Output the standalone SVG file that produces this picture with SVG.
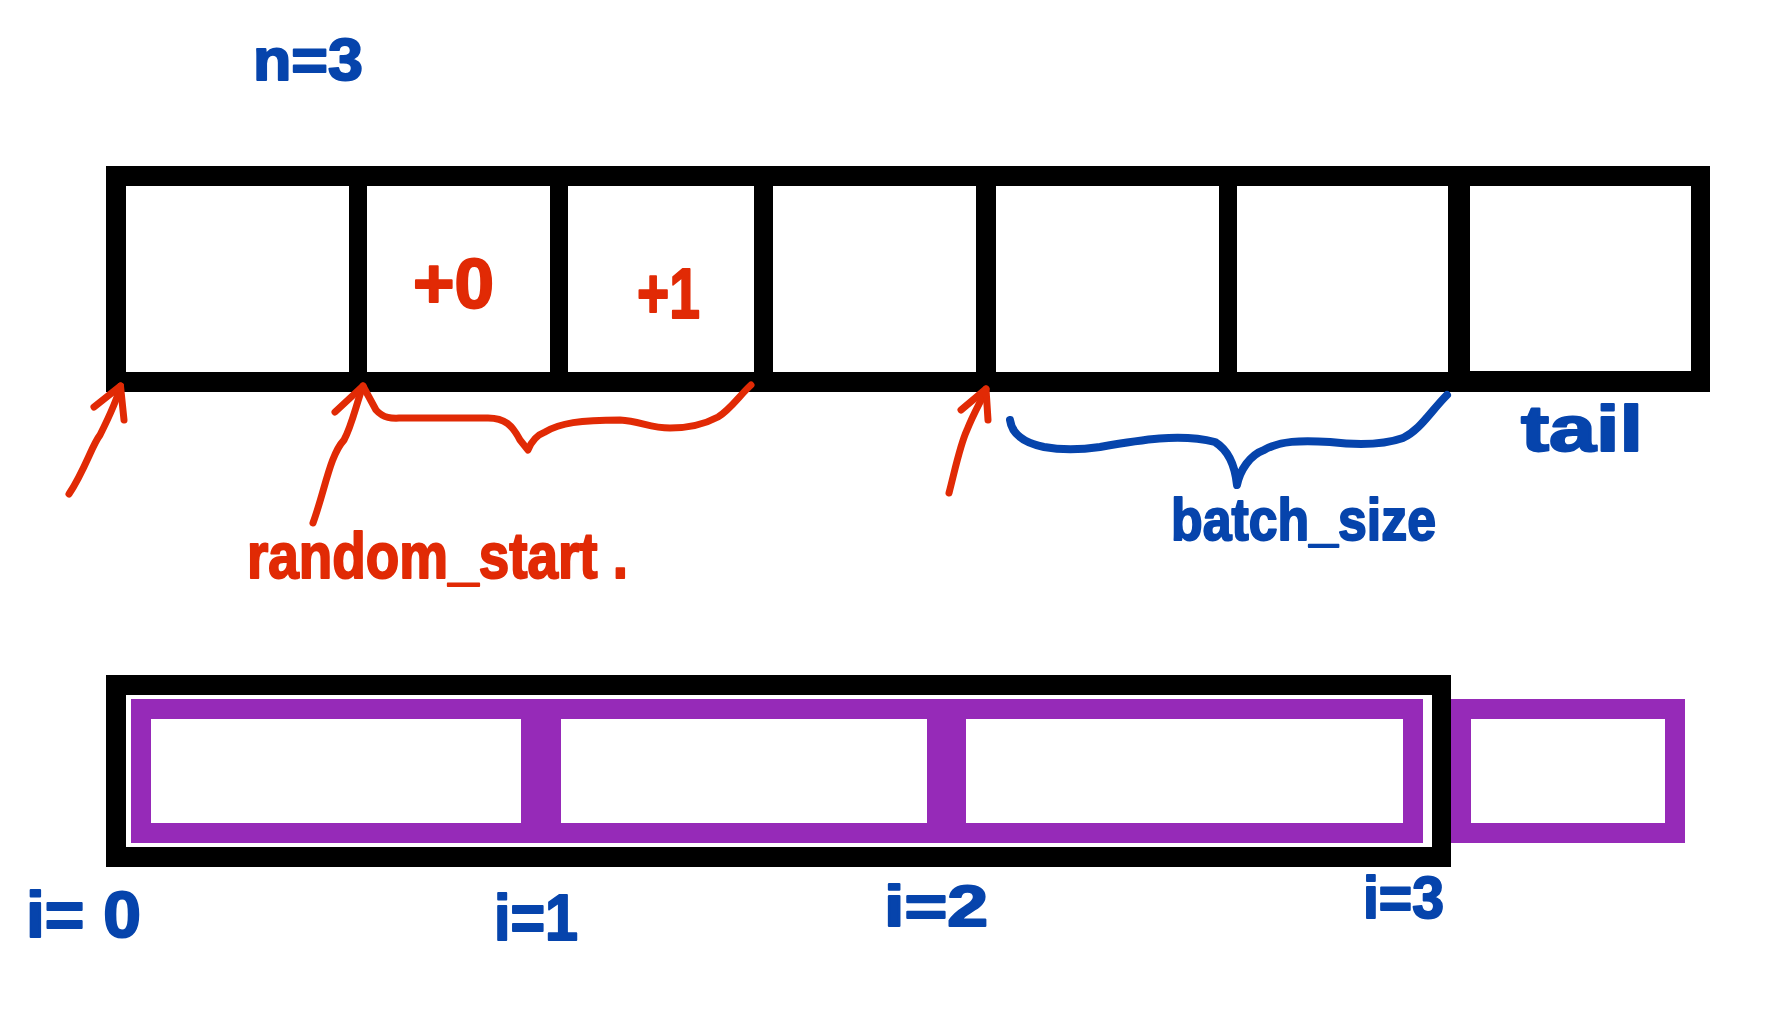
<svg xmlns="http://www.w3.org/2000/svg" width="1766" height="1014" viewBox="0 0 1766 1014">
<style>
.cell{fill:#ffffff}
.pur{fill:#962ab8}
.blk{fill:#000000}
.hand{font-family:"Liberation Sans","DejaVu Sans",sans-serif;font-weight:bold;stroke-linejoin:round}
.red{fill:#e12a05;stroke:#e12a05;stroke-width:2}
.blue{fill:#0644ac;stroke:#0644ac;stroke-width:2}
.rline{fill:none;stroke:#e12a05;stroke-width:7;stroke-linecap:round;stroke-linejoin:round}
.bline{fill:none;stroke:#0644ac;stroke-width:8;stroke-linecap:round;stroke-linejoin:round}
</style>
<rect width="1766" height="1014" fill="#ffffff"/>
<text id="label-n" class="hand blue" x="253" y="80" font-size="60" textLength="110" lengthAdjust="spacingAndGlyphs">n=3</text>
<g id="top-array">
<rect class="blk" x="106" y="166" width="1604" height="226"/>
<g id="cell-0"><rect class="cell" x="126" y="186" width="223" height="186"/></g>
<g id="cell-1"><rect class="cell" x="367" y="186" width="183" height="186"/><text class="hand red" x="413" y="308" font-size="70" textLength="81" lengthAdjust="spacingAndGlyphs">+0</text></g>
<g id="cell-2"><rect class="cell" x="568" y="186" width="186" height="186"/><text class="hand red" x="637" y="318" font-size="70" textLength="63" lengthAdjust="spacingAndGlyphs">+1</text></g>
<g id="cell-3"><rect class="cell" x="773" y="186" width="203" height="186"/></g>
<g id="cell-4"><rect class="cell" x="996" y="186" width="223" height="186"/></g>
<g id="cell-5"><rect class="cell" x="1237" y="186" width="211" height="186"/></g>
<g id="cell-6"><rect class="cell" x="1470" y="186" width="221" height="185"/></g>
</g>
<g id="connectors">
<path class="rline" d="M69,494 C85,470 92,445 100,435 C110,415 117,400 120.5,386"/>
<path class="rline" d="M94,407 L120.5,386 L124,420"/>
<path class="rline" d="M313,523 C325,490 330,455 344,440 C352,425 356,405 363,386"/>
<path class="rline" d="M335,412 L363,386 L376,410 C385,420 395,418 402,418 L488,418 C505,418 512,425 520,440 L528,450 C532,440 537,435 545,432 C560,423 580,420 620,420 C640,421 650,428 670,428 C690,428 705,424 718,417 C730,410 740,395 751,385"/>
<path class="rline" d="M949,493 C955,470 960,445 967,430 C975,410 982,400 986,389"/>
<path class="rline" d="M961,410 L986,389 L988,420"/>
<path class="bline" d="M1010,420 C1012,435 1025,443 1044,447 C1060,450 1080,450 1100,447 C1140,440 1180,433 1215,442 C1228,450 1235,465 1237,485 C1240,470 1250,455 1264,450 C1280,441 1300,440 1330,442 C1355,445 1380,446 1403,438 C1420,430 1430,412 1447,395"/>
</g>
<text id="label-random-start" class="hand red" x="247" y="578" font-size="64" textLength="381" lengthAdjust="spacingAndGlyphs">random_start .</text>
<text id="label-batch-size" class="hand blue" x="1171" y="540" font-size="60" textLength="265" lengthAdjust="spacingAndGlyphs">batch_size</text>
<text id="label-tail" class="hand blue" x="1521" y="451" font-size="64" textLength="122" lengthAdjust="spacingAndGlyphs">tail</text>
<g id="bottom-array">
<rect class="blk" x="106" y="675" width="1345" height="192"/>
<rect class="cell" x="126" y="695" width="1306" height="152"/>
<rect class="pur" x="131" y="699" width="1292" height="144"/>
<g id="batch-0"><rect class="cell" x="151" y="719" width="370" height="104"/></g>
<g id="batch-1"><rect class="cell" x="561" y="719" width="366" height="104"/></g>
<g id="batch-2"><rect class="cell" x="966" y="719" width="437" height="104"/></g>
</g>
<g id="tail-batch">
<rect class="pur" x="1451" y="699" width="234" height="144"/>
<rect class="cell" x="1471" y="719" width="194" height="104"/>
</g>
<text id="label-i0" class="hand blue" x="26" y="937" font-size="64" textLength="115" lengthAdjust="spacingAndGlyphs">i= 0</text>
<text id="label-i1" class="hand blue" x="494" y="940" font-size="64" textLength="84" lengthAdjust="spacingAndGlyphs">i=1</text>
<text id="label-i2" class="hand blue" x="884" y="926" font-size="58" textLength="104" lengthAdjust="spacingAndGlyphs">i=2</text>
<text id="label-i3" class="hand blue" x="1363" y="918" font-size="60" textLength="81" lengthAdjust="spacingAndGlyphs">i=3</text>
</svg>
